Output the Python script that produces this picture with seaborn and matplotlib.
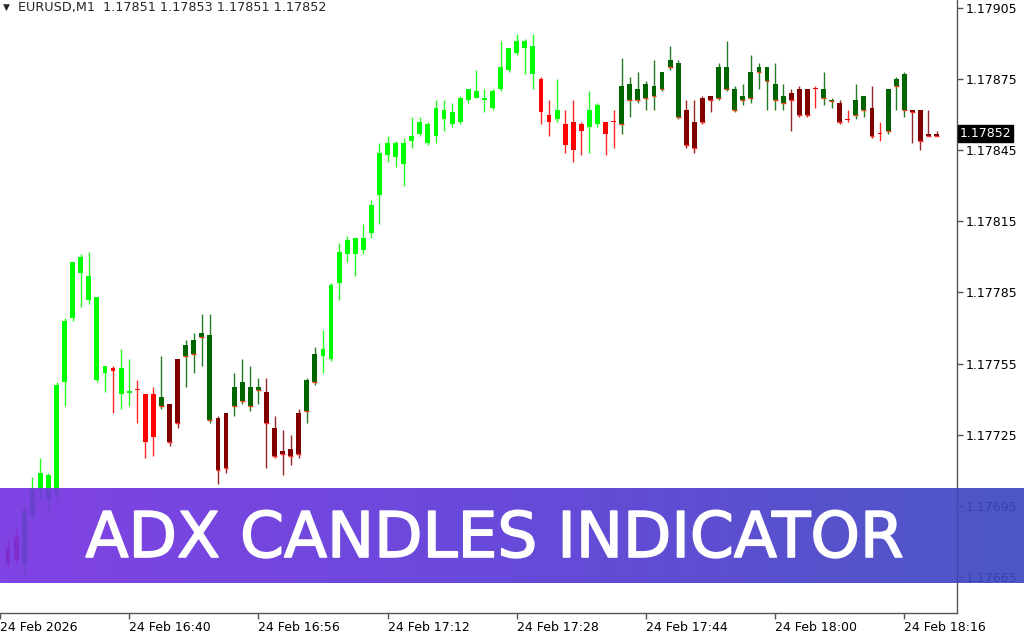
import numpy as np
import pandas as pd
import seaborn as sns
import matplotlib.pyplot as plt
import matplotlib.patheffects as pe
from matplotlib.colors import LinearSegmentedColormap

# EURUSD M1 candles, 16:25 .. 18:20
opens = [1.17677, 1.17682, 1.17670, 1.17691, 1.17702, 1.17698, 1.17700, 1.17747, 1.17774, 1.17793,
         1.17782, 1.17783, 1.17751, 1.17753, 1.17753, 1.17743, 1.17744, 1.17742, 1.17742, 1.17737,
         1.17738, 1.17730, 1.17758, 1.17759, 1.17766, 1.17767, 1.17732, 1.17711, 1.17737, 1.17739,
         1.17745, 1.17744, 1.17743, 1.17728, 1.17718, 1.17719, 1.17717, 1.17735, 1.17747, 1.17758,
         1.17757, 1.17789, 1.17801, 1.17808, 1.17803, 1.17810, 1.17826, 1.17843, 1.17848, 1.17839,
         1.17849, 1.17852, 1.17856, 1.17851, 1.17862, 1.17856, 1.17857, 1.17866, 1.17870, 1.17867,
         1.17863, 1.17871, 1.17879, 1.17886, 1.17891, 1.17889, 1.17875, 1.17860, 1.17858, 1.17856,
         1.17857, 1.17856, 1.17855, 1.17856, 1.17857, 1.17857, 1.17856, 1.17866, 1.17866, 1.17867,
         1.17868, 1.17871, 1.17880, 1.17882, 1.17862, 1.17846, 1.17857, 1.17868, 1.17867, 1.17880,
         1.17871, 1.17866, 1.17867, 1.17878, 1.17880, 1.17873, 1.17865, 1.17869, 1.17871, 1.17860,
         1.17871, 1.17871, 1.17866, 1.17865, 1.17858, 1.17860, 1.17862, 1.17863, 1.17852, 1.17853,
         1.17872, 1.17877, 1.17862, 1.17862, 1.17852, 1.17851]
highs = [1.17681, 1.17685, 1.17695, 1.17707, 1.17715, 1.17709, 1.17747, 1.17774, 1.17798, 1.17801,
         1.17802, 1.17783, 1.17754, 1.17754, 1.17761, 1.17757, 1.17748, 1.17742, 1.17745, 1.17758,
         1.17738, 1.17757, 1.17765, 1.17768, 1.17776, 1.17776, 1.17733, 1.17734, 1.17751, 1.17757,
         1.17754, 1.17749, 1.17749, 1.17733, 1.17727, 1.17725, 1.17736, 1.17749, 1.17762, 1.17769,
         1.17789, 1.17806, 1.17809, 1.17808, 1.17814, 1.17824, 1.17848, 1.17851, 1.17849, 1.17850,
         1.17859, 1.17859, 1.17857, 1.17866, 1.17866, 1.17865, 1.17868, 1.17871, 1.17879, 1.17871,
         1.17871, 1.17891, 1.17888, 1.17894, 1.17892, 1.17894, 1.17876, 1.17866, 1.17875, 1.17862,
         1.17866, 1.17857, 1.17870, 1.17865, 1.17857, 1.17862, 1.17884, 1.17876, 1.17878, 1.17874,
         1.17883, 1.17878, 1.17889, 1.17883, 1.17866, 1.17866, 1.17868, 1.17868, 1.17882, 1.17891,
         1.17872, 1.17873, 1.17885, 1.17882, 1.17880, 1.17882, 1.17873, 1.17871, 1.17872, 1.17871,
         1.17872, 1.17878, 1.17867, 1.17866, 1.17862, 1.17873, 1.17868, 1.17872, 1.17857, 1.17871,
         1.17876, 1.17878, 1.17862, 1.17862, 1.17862, 1.17853]
lows = [1.17669, 1.17670, 1.17664, 1.17689, 1.17698, 1.17691, 1.17697, 1.17737, 1.17773, 1.17779,
        1.17780, 1.17747, 1.17743, 1.17734, 1.17736, 1.17737, 1.17730, 1.17715, 1.17716, 1.17736,
        1.17720, 1.17728, 1.17745, 1.17751, 1.17754, 1.17730, 1.17704, 1.17709, 1.17733, 1.17738,
        1.17735, 1.17738, 1.17711, 1.17715, 1.17708, 1.17712, 1.17715, 1.17730, 1.17746, 1.17751,
        1.17756, 1.17782, 1.17798, 1.17792, 1.17801, 1.17808, 1.17814, 1.17840, 1.17838, 1.17830,
        1.17846, 1.17851, 1.17847, 1.17848, 1.17853, 1.17855, 1.17856, 1.17865, 1.17867, 1.17861,
        1.17862, 1.17870, 1.17878, 1.17885, 1.17877, 1.17871, 1.17856, 1.17851, 1.17857, 1.17844,
        1.17840, 1.17843, 1.17844, 1.17855, 1.17843, 1.17846, 1.17852, 1.17859, 1.17865, 1.17862,
        1.17862, 1.17870, 1.17879, 1.17858, 1.17846, 1.17844, 1.17856, 1.17861, 1.17866, 1.17870,
        1.17861, 1.17864, 1.17865, 1.17871, 1.17862, 1.17862, 1.17862, 1.17853, 1.17859, 1.17859,
        1.17863, 1.17864, 1.17863, 1.17856, 1.17857, 1.17858, 1.17859, 1.17850, 1.17849, 1.17852,
        1.17862, 1.17859, 1.17848, 1.17845, 1.17851, 1.17851]
closes = [1.17671, 1.17672, 1.17693, 1.17702, 1.17709, 1.17708, 1.17746, 1.17773, 1.17798, 1.17800,
          1.17792, 1.17748, 1.17754, 1.17752, 1.17742, 1.17743, 1.17744, 1.17722, 1.17724, 1.17741,
          1.17722, 1.17757, 1.17763, 1.17765, 1.17768, 1.17731, 1.17710, 1.17734, 1.17745, 1.17747,
          1.17737, 1.17745, 1.17730, 1.17716, 1.17717, 1.17716, 1.17734, 1.17748, 1.17759, 1.17761,
          1.17788, 1.17802, 1.17807, 1.17801, 1.17808, 1.17822, 1.17844, 1.17848, 1.17842, 1.17848,
          1.17851, 1.17857, 1.17848, 1.17863, 1.17858, 1.17861, 1.17867, 1.17871, 1.17867, 1.17866,
          1.17870, 1.17880, 1.17888, 1.17891, 1.17888, 1.17877, 1.17861, 1.17857, 1.17862, 1.17847,
          1.17845, 1.17853, 1.17862, 1.17864, 1.17852, 1.17857, 1.17872, 1.17873, 1.17871, 1.17873,
          1.17872, 1.17878, 1.17883, 1.17859, 1.17847, 1.17857, 1.17867, 1.17866, 1.17880, 1.17871,
          1.17862, 1.17868, 1.17878, 1.17880, 1.17874, 1.17866, 1.17868, 1.17866, 1.17860, 1.17871,
          1.17871, 1.17867, 1.17866, 1.17857, 1.17858, 1.17866, 1.17868, 1.17851, 1.17852, 1.17871,
          1.17875, 1.17862, 1.17861, 1.17849, 1.17851, 1.17852]
# ADX candle state: L strong up, G weak up, R strong down, M weak down
states = list("RRLLLLLLLLLLLRLLRRRGMMGGGGMMGGGGMMMMMGG"
              "LLLLLLLLLLLLLLLLLLLLLLLLLLL"
              "RRLRRRLLRRGGGGGGGGMMMMGGGGGGGGGMMMRGGMRGGMRGGGMMMM")

first_bar = "2026-02-24 16:25"
tick_times = ["2026-02-24 16:24", "2026-02-24 16:40", "2026-02-24 16:56", "2026-02-24 17:12",
              "2026-02-24 17:28", "2026-02-24 17:44", "2026-02-24 18:00", "2026-02-24 18:16"]
tick_labels = ["24 Feb 2026", "24 Feb 16:40", "24 Feb 16:56", "24 Feb 17:12",
               "24 Feb 17:28", "24 Feb 17:44", "24 Feb 18:00", "24 Feb 18:16"]
price_ticks = [1.17665, 1.17695, 1.17725, 1.17755, 1.17785, 1.17815, 1.17845, 1.17875, 1.17905]
header = "EURUSD,M1  1.17851 1.17853 1.17851 1.17852"
title = "ADX CANDLES INDICATOR"

palette = {"L": "#00ff00", "G": "#006400", "R": "#ff0000", "M": "#800000"}
edge_palette = {"G": "#e8461a", "M": "#ff3030"}

df = pd.DataFrame({"open": opens, "high": highs, "low": lows, "close": closes, "state": states})
df["time"] = pd.date_range(first_bar, periods=len(df), freq="min")
df["x"] = np.arange(len(df))
df["color"] = df["state"].map(palette)
body_lo = np.minimum(df["open"], df["close"])
body_hi = np.maximum(df["open"], df["close"])
min_body = 0.000006
df["body_h"] = np.maximum(body_hi - body_lo, min_body)
df["body_b"] = (body_lo + body_hi) / 2 - df["body_h"] / 2

sns.set_theme(style="white")
plt.rcParams["font.family"] = ["DejaVu Sans"]

fig = plt.figure(figsize=(10.24, 6.4), dpi=100)
ax = fig.add_axes([0, 27 / 640, 957 / 1024, 613 / 640])

ax.vlines(df["x"], df["low"], df["high"], colors=df["color"], linewidth=1.0, alpha=0.85)
ax.bar(df["x"], df["body_h"], bottom=df["body_b"], width=0.6, color=df["color"], linewidth=0)

# thin orange/red edge at the bottom of the weak-trend bodies
weak = df[df["state"].isin(["G", "M"])]
ax.hlines(weak["body_b"], weak["x"] - 0.3, weak["x"] + 0.3,
          colors=weak["state"].map(edge_palette), linewidth=1.0)

ax.set_xlim(-0.62, 117.53)
ax.set_ylim(1.1764973, 1.1790838)

ax.yaxis.tick_right()
ax.set_yticks(price_ticks)
ax.set_yticklabels([f"{p:.5f}" for p in price_ticks])
t0 = pd.Timestamp(first_bar)
xt = [(pd.Timestamp(t) - t0) / pd.Timedelta(minutes=1) for t in tick_times]
ax.set_xticks(xt)
ax.set_xticklabels(tick_labels, ha="left")
ax.tick_params(axis="both", which="both", length=4, width=1, color="#555555",
               labelsize=9, labelcolor="black", pad=2, direction="out")
ax.tick_params(axis="y", right=True, left=False)
ax.tick_params(axis="x", bottom=True)
for s in ["top", "left"]:
    ax.spines[s].set_visible(False)
for s in ["bottom", "right"]:
    ax.spines[s].set_color("#555555")
    ax.spines[s].set_linewidth(1)
ax.grid(False)

ax.text(1.0031, closes[-1], f"{closes[-1]:.5f}", transform=ax.get_yaxis_transform(),
        ha="left", va="center", color="white", fontsize=9, clip_on=False,
        bbox=dict(boxstyle="square,pad=0.15", fc="black", ec="black"))

fig.text(3 / 1024, 1 - 7 / 640, "\u25bc", fontsize=6.5, va="center", ha="left")
fig.text(18 / 1024, 1 - 7 / 640, header, fontsize=9.2, va="center", ha="left")

# banner
bax = fig.add_axes([0, 1 - 583 / 640, 1, 95 / 640])
cmap = LinearSegmentedColormap.from_list("banner", ["#7632e2", "#5a39d6", "#3c48c0"])
bax.imshow(np.linspace(0, 1, 256)[None, :], aspect="auto", cmap=cmap, alpha=0.92,
           extent=[0, 1, 0, 1])
bax.set_xlim(0, 1)
bax.set_ylim(0, 1)
bax.axis("off")
bax.text(494 / 1024, 26 / 95, title, ha="center", va="baseline", color="white",
         fontsize=45.3, family=["DejaVu Sans"],
         path_effects=[pe.withStroke(linewidth=1.2, foreground="white")])

fig.savefig("out.png", dpi=100)
